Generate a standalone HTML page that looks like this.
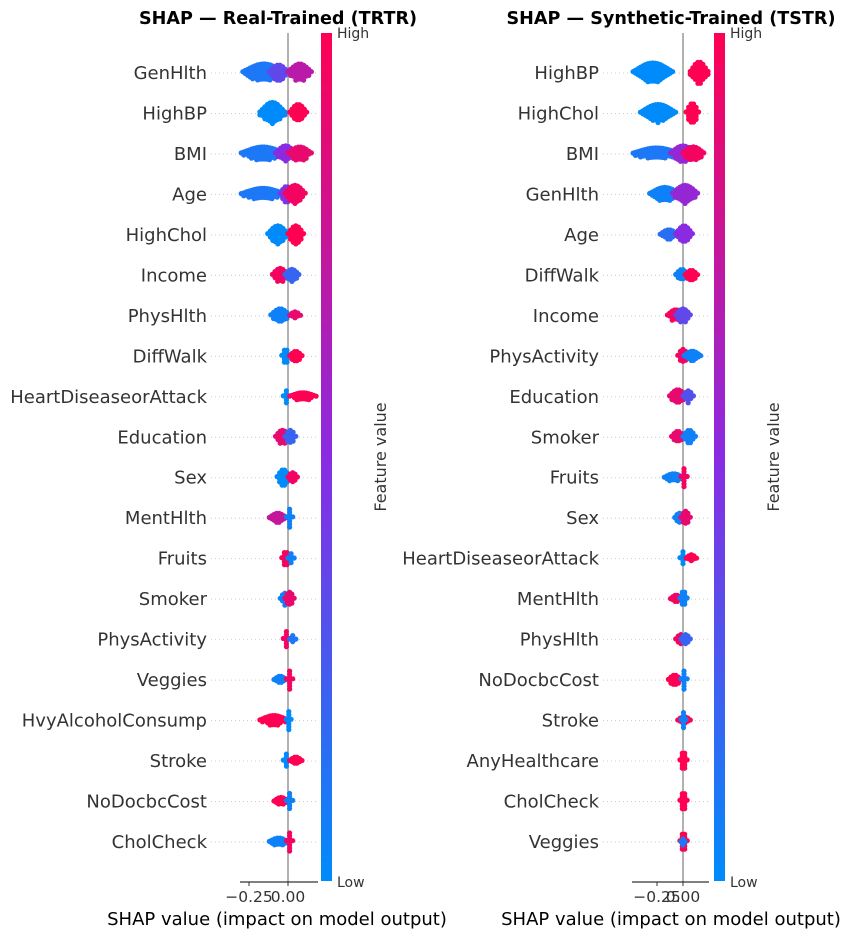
<!DOCTYPE html>
<html><head><meta charset="utf-8"><style>
body{margin:0;background:#fff;font-family:"Liberation Sans","DejaVu Sans",sans-serif}
svg text{font-family:"DejaVu Sans","Liberation Sans",sans-serif}
</style></head><body>
<svg id="chart" width="848" height="940" xmlns="http://www.w3.org/2000/svg"></svg>
<script>
// Left panel: SHAP Real-Trained
const leftFeatures = ["GenHlth","HighBP","BMI","Age","HighChol","Income","PhysHlth","DiffWalk","HeartDiseaseorAttack","Education","Sex","MentHlth","Fruits","Smoker","PhysActivity","Veggies","HvyAlcoholConsump","Stroke","NoDocbcCost","CholCheck"];
// segments: [minShap, maxShap, featureValue(0..1), halfThicknessPx]
const leftSegments = [
 [[-0.29,-0.02,0.1,9],[-0.12,0.0,0.35,8],[0.0,0.15,0.7,9]],
 [[-0.18,-0.02,0.0,11],[0.01,0.12,1.0,9]],
 [[-0.3,-0.02,0.1,7],[-0.08,0.05,0.5,8],[0.0,0.15,0.9,7]],
 [[-0.3,-0.02,0.1,6],[-0.05,0.03,0.45,8],[-0.02,0.11,0.95,9]],
 [[-0.13,0.0,0.0,9],[0.0,0.1,1.0,9]],
 [[-0.1,0.0,0.95,7],[-0.02,0.07,0.2,6]],
 [[-0.11,0.01,0.05,7],[0.01,0.08,0.9,4]],
 [[-0.04,0.01,0.0,7],[0.01,0.09,1.0,5]],
 [[-0.03,0.01,0.0,6],[0.01,0.18,1.0,4]],
 [[-0.08,0.01,0.9,7],[-0.02,0.05,0.2,7]],
 [[-0.07,0.01,0.0,8],[0.0,0.06,0.95,5]],
 [[-0.12,-0.01,0.75,5],[-0.01,0.03,0.05,9]],
 [[-0.04,0.01,0.95,7],[0.0,0.04,0.05,5]],
 [[-0.05,0.01,0.05,6],[-0.02,0.04,0.9,7]],
 [[-0.03,0.01,0.95,8],[0.01,0.05,0.1,4]],
 [[-0.09,-0.01,0.05,4],[-0.01,0.03,0.95,9]],
 [[-0.18,0.0,1.0,5],[-0.01,0.02,0.0,9]],
 [[-0.03,0.01,0.0,7],[0.01,0.09,1.0,4]],
 [[-0.09,0.0,1.0,4],[-0.01,0.03,0.05,8]],
 [[-0.12,0.0,0.05,4],[-0.01,0.03,0.95,9]]
];
const leftTicks = [-0.25, 0.0];
const leftTickLabels = ["\u22120.25","0.00"];
// Right panel: SHAP Synthetic-Trained
const rightFeatures = ["HighBP","HighChol","BMI","GenHlth","Age","DiffWalk","Income","PhysActivity","Education","Smoker","Fruits","Sex","HeartDiseaseorAttack","MentHlth","PhysHlth","NoDocbcCost","Stroke","AnyHealthcare","CholCheck","Veggies"];
const rightSegments = [
 [[-0.48,-0.1,0.0,10],[0.07,0.24,1.0,11]],
 [[-0.41,-0.07,0.0,9],[0.03,0.15,1.0,10]],
 [[-0.48,-0.03,0.1,6],[-0.12,0.12,0.55,8],[0.0,0.2,0.95,7]],
 [[-0.32,-0.03,0.05,7],[-0.1,0.14,0.55,9]],
 [[-0.22,-0.05,0.15,5],[-0.07,0.09,0.5,9]],
 [[-0.07,0.05,0.05,6],[0.02,0.14,1.0,5]],
 [[-0.15,0.01,0.95,6],[-0.07,0.07,0.35,7]],
 [[-0.05,0.05,0.95,7],[0.01,0.17,0.05,5]],
 [[-0.13,0.03,0.9,7],[0.0,0.1,0.3,6]],
 [[-0.11,0.01,0.9,6],[0.0,0.12,0.05,7]],
 [[-0.18,0.0,0.05,4],[-0.02,0.04,0.95,9]],
 [[-0.08,0.01,0.05,5],[-0.02,0.07,0.9,7]],
 [[-0.03,0.03,0.0,7],[0.03,0.13,1.0,4]],
 [[-0.12,-0.01,0.95,4],[-0.03,0.04,0.05,8]],
 [[-0.07,0.03,0.95,5],[-0.02,0.07,0.2,5]],
 [[-0.14,-0.02,1.0,5],[-0.02,0.04,0.05,9]],
 [[-0.05,0.07,1.0,4],[-0.02,0.03,0.05,8]],
 [[-0.03,0.04,1.0,9]],
 [[-0.03,0.04,1.0,9]],
 [[-0.03,0.04,1.0,9],[-0.02,0.02,0.1,3]]
];
const rightTicks = [-0.25, 0.0];
const rightTickLabels = ["\u22120.25","0.00"];

const svg = document.getElementById('chart');
const NS = "http://www.w3.org/2000/svg";
function mk(tag, attrs, parent){const e=document.createElementNS(NS,tag);for(const k in attrs)e.setAttribute(k,attrs[k]);(parent||svg).appendChild(e);return e;}
function col(v){const a=[0,139,251],b=[255,0,82];const m=[138,43,226];let c;
 if(v<0.5){const t=v/0.5;c=a.map((x,i)=>x+(m[i]-x)*t);}else{const t=(v-0.5)/0.5;c=m.map((x,i)=>x+(b[i]-x)*t);}
 return `rgb(${c.map(Math.round).join(',')})`;}

const defs = mk('defs',{});
const lg = mk('linearGradient',{id:'cb',x1:0,y1:1,x2:0,y2:0},defs);
[0,0.25,0.5,0.75,1].forEach(v=>mk('stop',{offset:v,'stop-color':col(v)},lg));

function panel(p){
 const g=mk('g',{});
 
 
 const sx=v=>p.zero+v*p.scale;
 const y0=73, dy=(842-73)/19;
 p.features.forEach((f,i)=>{
  const y=y0+i*dy;
  const gl=mk('line',{x1:p.labelX+4,x2:p.axisR,y1:y,y2:y,stroke:'#ccc','stroke-dasharray':'1,3','stroke-width':1},g);
  
  
  const t=mk('text',{x:p.labelX,y:y+6,'text-anchor':'end','font-size':18,fill:'#333'},g);
  t.textContent=f;
  
  
 });
 const zl=mk('line',{x1:p.zero,x2:p.zero,y1:33,y2:882,stroke:'#999','stroke-width':1.5},g);
 
 
 p.features.forEach((f,i)=>{
  const y=y0+i*dy;
  const rg=mk('g',{},g);
  
  
  p.segs[i].forEach(s=>{
   const x1=sx(s[0]),x2=sx(s[1]);const c=col(s[2]);const w=x2-x1;
   const n=Math.max(2,Math.round(w/2.5));
   for(let k=0;k<=n;k++){
    const t=k/n;const x=x1+w*t;
    const h=s[3]*Math.pow(Math.sin(Math.PI*(0.08+0.84*t)),1.4);
    for(let yy=-h;yy<=h+0.01;yy+=3){
     mk('circle',{cx:x.toFixed(1),cy:(y+yy).toFixed(1),r:2.6,fill:c},rg);
    }
   }
  });
 });
 const ay=882;
 mk('line',{x1:p.axisL,x2:p.axisR,y1:ay,y2:ay,stroke:'#000','stroke-width':1},g);
 p.ticks.forEach((v,i)=>{
  mk('line',{x1:sx(v),x2:sx(v),y1:ay,y2:ay+4,stroke:'#333'},g);
  const t=mk('text',{x:sx(v),y:ay+20,'text-anchor':'middle','font-size':15.5,fill:'#333'},g);
  t.textContent=p.tickLabels[i];
  
  
 });
 const xt=mk('text',{x:p.xTitleX,y:925,'text-anchor':'middle','font-size':18,fill:'#000'},g);
 xt.textContent='SHAP value (impact on model output)';
 
 
 const tt=mk('text',{x:p.titleX,y:24,'text-anchor':'middle','font-size':17.6,'font-weight':'bold',fill:'#000'},g);
 tt.textContent=p.title;
 
 
 const cb=mk('rect',{x:p.cbX,y:33,width:11,height:848,fill:'url(#cb)'},g);
 
 
 const hi=mk('text',{x:p.cbX+16,y:38,'font-size':14,fill:'#333'},g);hi.textContent='High';
 
 
 const lo=mk('text',{x:p.cbX+16,y:887,'font-size':14,fill:'#333'},g);lo.textContent='Low';
 
 
 const fv=mk('text',{x:0,y:0,'font-size':16,fill:'#333','text-anchor':'middle',transform:`translate(${p.cbX+65},457) rotate(-90)`},g);
 fv.textContent='Feature value';
 
 
}
panel({name:'left-panel',features:leftFeatures,segs:leftSegments,ticks:leftTicks,tickLabels:leftTickLabels,zero:288,scale:156,labelX:207,axisL:240,axisR:318,cbX:321,xTitleX:277,titleX:278,title:'SHAP \u2014 Real-Trained (TRTR)'});
panel({name:'right-panel',features:rightFeatures,segs:rightSegments,ticks:rightTicks,tickLabels:rightTickLabels,zero:683,scale:104,labelX:599,axisL:632,axisR:709,cbX:714,xTitleX:671,titleX:671,title:'SHAP \u2014 Synthetic-Trained (TSTR)'});
</script>
</body></html>
